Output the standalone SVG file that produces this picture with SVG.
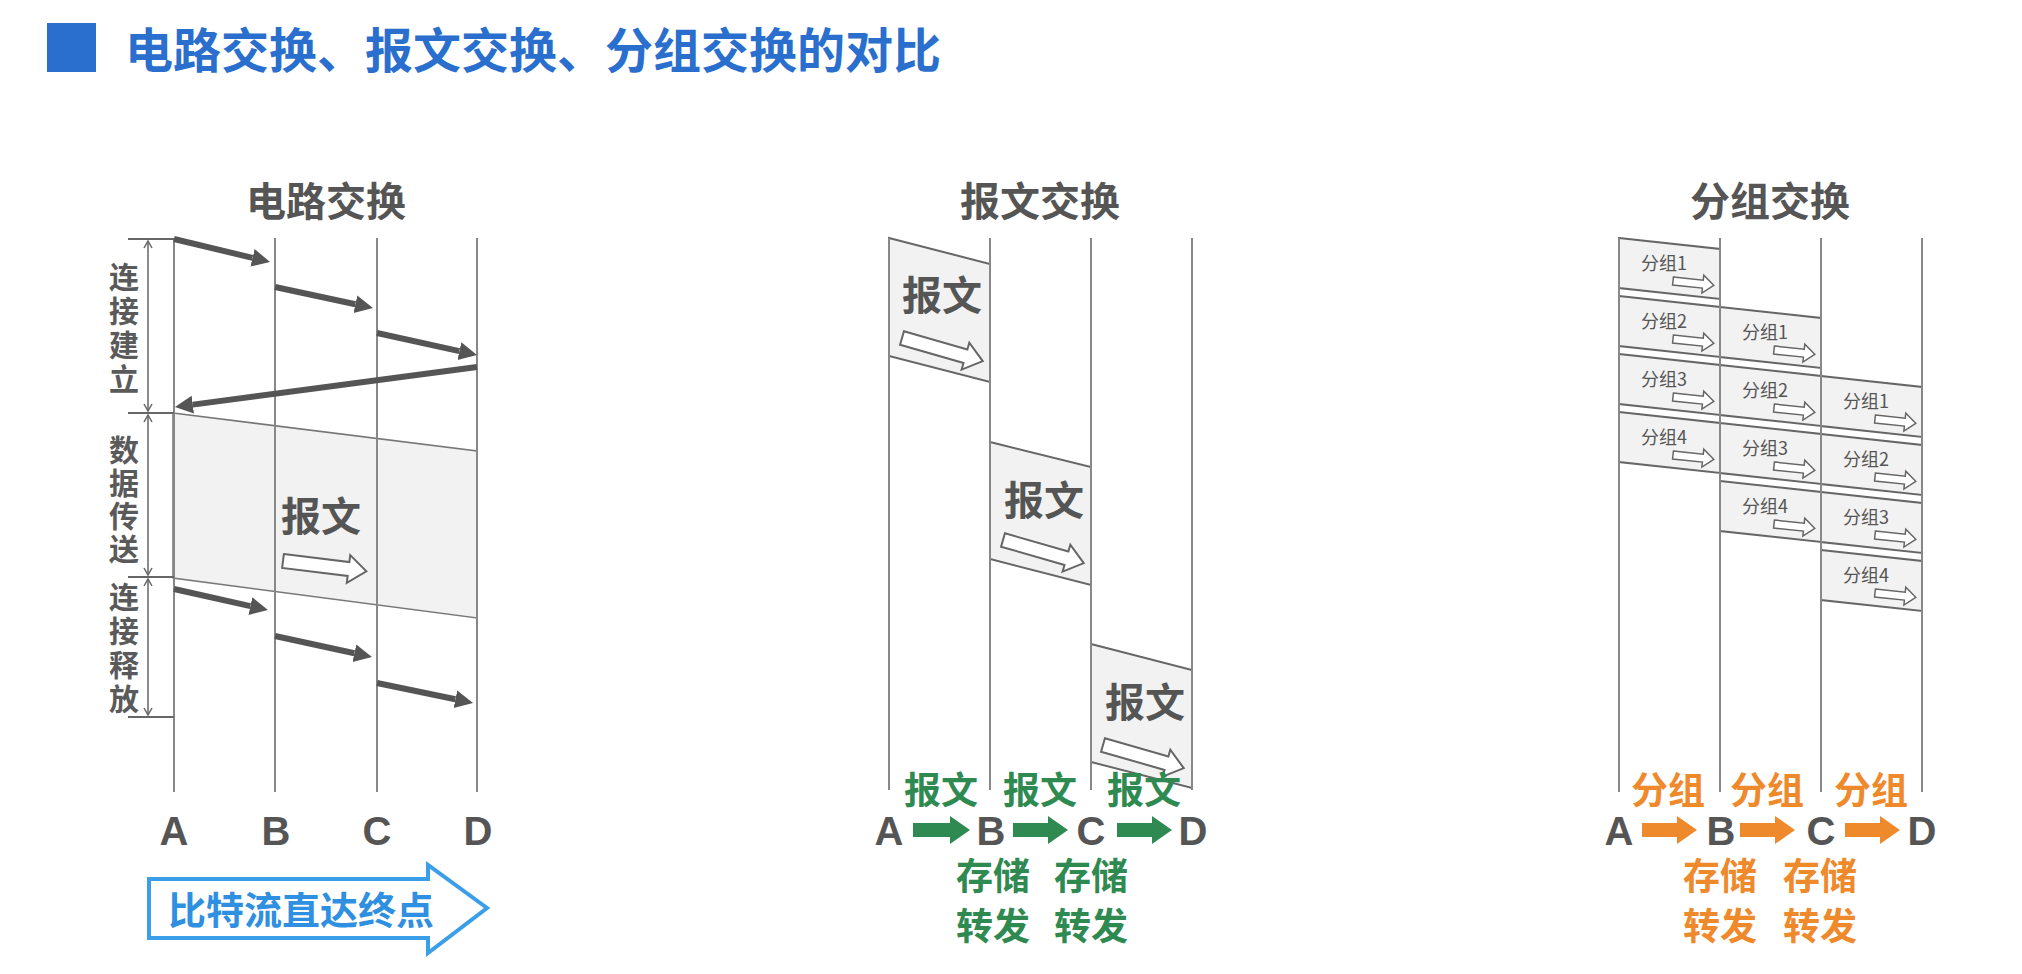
<svg xmlns="http://www.w3.org/2000/svg" width="2022" height="974" viewBox="0 0 2022 974">
<style>
.cjk{font-family:"Noto Sans CJK SC","Noto Sans",sans-serif}
.title{font-size:48px;font-weight:bold;fill:#2a6fcd}
.sec{font-size:40px;font-weight:bold;fill:#555;text-anchor:middle}
.side{font-size:30px;font-weight:bold;fill:#5a5a5a;writing-mode:vertical-rl;text-orientation:upright}
.big{font-size:40px;font-weight:bold;fill:#555;text-anchor:middle}
.pk{font-size:18px;fill:#555}
.abcd{font-family:"Liberation Sans",Arial,sans-serif;font-size:40px;font-weight:bold;fill:#555;text-anchor:middle}
.grn{font-size:37px;font-weight:bold;fill:#2f8a52;text-anchor:middle}
.org{font-size:37px;font-weight:bold;fill:#ee8a2c;text-anchor:middle}
.vline{stroke:#888;stroke-width:2;fill:none}
.tick{stroke:#666;stroke-width:2;fill:none}
.box{fill:#f2f2f2;stroke:#666;stroke-width:2}
.hollow{fill:#fff;stroke:#666;stroke-width:2}
.thick{stroke:#555;stroke-width:6;fill:none;marker-end:url(#head)}
.dim{stroke:#666;stroke-width:1.5;fill:none;marker-start:url(#dimS);marker-end:url(#dimE)}
</style>
<defs>
<marker id="head" markerUnits="userSpaceOnUse" markerWidth="20" markerHeight="20" viewBox="0 -10 20 20" refX="0" refY="0" orient="auto">
<path d="M0,-9 L18,0 L0,9 Z" fill="#555"/>
</marker>
<marker id="dimE" markerUnits="userSpaceOnUse" markerWidth="12" markerHeight="12" viewBox="-10 -6 12 12" refX="0" refY="0" orient="auto">
<path d="M-7,-4 L0,0 L-7,4" fill="none" stroke="#666" stroke-width="1.5"/>
</marker>
<marker id="dimS" markerUnits="userSpaceOnUse" markerWidth="12" markerHeight="12" viewBox="-2 -6 12 12" refX="0" refY="0" orient="auto">
<path d="M7,-4 L0,0 L7,4" fill="none" stroke="#666" stroke-width="1.5"/>
</marker>
<path id="harrow" d="M0,-7 H66 V-14 L84,0 L66,14 V7 H0 Z"/>
<path id="sarrow" d="M0,-4 H30 V-9 L41,0 L30,9 V4 H0 Z"/>
</defs>
<rect width="2022" height="974" fill="#fff"/>

<g id="header">
<rect x="47" y="23" width="49" height="49" fill="#2a6fcd"/>
<text class="cjk title" x="125" y="68">电路交换、报文交换、分组交换的对比</text>
</g>

<!-- Circuit switching -->
<g id="circuit">
<text class="cjk sec" x="326" y="216">电路交换</text>
<polygon class="box" points="173,413 477,451 477,618 173,578" style="stroke:#777;stroke-width:1.5"/>
<line class="vline" x1="174" y1="238" x2="174" y2="792"/>
<line class="vline" x1="275" y1="238" x2="275" y2="792"/>
<line class="vline" x1="377" y1="238" x2="377" y2="792"/>
<line class="vline" x1="477" y1="238" x2="477" y2="792"/>
<line class="tick" x1="128" y1="239" x2="174" y2="239"/>
<line class="tick" x1="128" y1="413" x2="174" y2="413"/>
<line class="tick" x1="128" y1="577" x2="174" y2="577"/>
<line class="tick" x1="128" y1="717" x2="174" y2="717"/>
<line class="dim" x1="148" y1="241" x2="148" y2="411"/>
<line class="dim" x1="148" y1="415" x2="148" y2="575"/>
<line class="dim" x1="148" y1="579" x2="148" y2="715"/>
<text class="cjk side" x="124" y="262" style="letter-spacing:4px">连接建立</text>
<text class="cjk side" x="124" y="435" style="letter-spacing:3px">数据传送</text>
<text class="cjk side" x="124" y="582" style="letter-spacing:4px">连接释放</text>
<text class="cjk big" x="321" y="531">报文</text>
<use href="#harrow" class="hollow" transform="translate(283,561) rotate(7)"/>
<text class="abcd" x="174" y="845">A</text>
<text class="abcd" x="276" y="845">B</text>
<text class="abcd" x="377" y="845">C</text>
<text class="abcd" x="478" y="845">D</text>
</g>

<g id="bitstream">
<polygon points="149,879 428,879 428,865 487,908 428,953 428,938 149,938" fill="#fff" stroke="#3a9fe8" stroke-width="4" stroke-linejoin="miter"/>
<text class="cjk" x="168" y="924" style="font-size:38px;font-weight:bold;fill:#2f8fe0">比特流直达终点</text>
</g>

<!-- Message switching -->
<g id="message">
<text class="cjk sec" x="1040" y="216">报文交换</text>
<polygon class="box" points="889,238 990,264 990,382 889,356"/>
<polygon class="box" points="990,442 1091,467 1091,585 990,559"/>
<polygon class="box" points="1091,644 1192,670 1192,788 1091,762"/>
<line class="vline" x1="889" y1="238" x2="889" y2="790"/>
<line class="vline" x1="990" y1="238" x2="990" y2="790"/>
<line class="vline" x1="1091" y1="238" x2="1091" y2="790"/>
<line class="vline" x1="1192" y1="238" x2="1192" y2="790"/>
<text class="cjk big" x="942" y="310">报文</text>
<use href="#harrow" class="hollow" transform="translate(902,338) rotate(16)"/>
<text class="cjk big" x="1044" y="515">报文</text>
<use href="#harrow" class="hollow" transform="translate(1003,540) rotate(16)"/>
<text class="cjk big" x="1145" y="717">报文</text>
<use href="#harrow" class="hollow" transform="translate(1103,745) rotate(16)"/>
<text class="cjk grn" x="941" y="804">报文</text>
<text class="cjk grn" x="1040" y="804">报文</text>
<text class="cjk grn" x="1144" y="804">报文</text>
<text class="abcd" x="889" y="845">A</text>
<text class="abcd" x="991" y="845">B</text>
<text class="abcd" x="1091" y="845">C</text>
<text class="abcd" x="1193" y="845">D</text>
<g fill="#2f8a52">
<path d="M913,823 H950 V816 L970,830 L950,844 V837 H913 Z"/>
<path d="M1013,823 H1048 V816 L1068,830 L1048,844 V837 H1013 Z"/>
<path d="M1117,823 H1152 V816 L1172,830 L1152,844 V837 H1117 Z"/>
</g>
<text class="cjk grn" x="993" y="890">存储</text>
<text class="cjk grn" x="993" y="940">转发</text>
<text class="cjk grn" x="1091" y="890">存储</text>
<text class="cjk grn" x="1091" y="940">转发</text>
</g>

<!-- Packet switching -->
<g id="packet">
<text class="cjk sec" x="1770" y="216">分组交换</text>
<g id="col1">
<polygon class="box" points="1619,238 1720,249 1720,299 1619,288"/>
<polygon class="box" points="1619,296 1720,307 1720,357 1619,346"/>
<polygon class="box" points="1619,354 1720,365 1720,415 1619,404"/>
<polygon class="box" points="1619,412 1720,423 1720,473 1619,462"/>
<text class="cjk pk" x="1641" y="270">分组1</text>
<text class="cjk pk" x="1641" y="328">分组2</text>
<text class="cjk pk" x="1641" y="386">分组3</text>
<text class="cjk pk" x="1641" y="444">分组4</text>
<use href="#sarrow" class="hollow" style="stroke-width:1.5" transform="translate(1673,281) rotate(6)"/>
<use href="#sarrow" class="hollow" style="stroke-width:1.5" transform="translate(1673,339) rotate(6)"/>
<use href="#sarrow" class="hollow" style="stroke-width:1.5" transform="translate(1673,397) rotate(6)"/>
<use href="#sarrow" class="hollow" style="stroke-width:1.5" transform="translate(1673,455) rotate(6)"/>
</g>
<g id="col2">
<polygon class="box" points="1720,307 1821,318 1821,368 1720,357"/>
<polygon class="box" points="1720,365 1821,376 1821,426 1720,415"/>
<polygon class="box" points="1720,423 1821,434 1821,484 1720,473"/>
<polygon class="box" points="1720,481 1821,492 1821,542 1720,531"/>
<text class="cjk pk" x="1742" y="339">分组1</text>
<text class="cjk pk" x="1742" y="397">分组2</text>
<text class="cjk pk" x="1742" y="455">分组3</text>
<text class="cjk pk" x="1742" y="513">分组4</text>
<use href="#sarrow" class="hollow" style="stroke-width:1.5" transform="translate(1774,350) rotate(6)"/>
<use href="#sarrow" class="hollow" style="stroke-width:1.5" transform="translate(1774,408) rotate(6)"/>
<use href="#sarrow" class="hollow" style="stroke-width:1.5" transform="translate(1774,466) rotate(6)"/>
<use href="#sarrow" class="hollow" style="stroke-width:1.5" transform="translate(1774,524) rotate(6)"/>
</g>
<g id="col3">
<polygon class="box" points="1821,376 1922,387 1922,437 1821,426"/>
<polygon class="box" points="1821,434 1922,445 1922,495 1821,484"/>
<polygon class="box" points="1821,492 1922,503 1922,553 1821,542"/>
<polygon class="box" points="1821,550 1922,561 1922,611 1821,600"/>
<text class="cjk pk" x="1843" y="408">分组1</text>
<text class="cjk pk" x="1843" y="466">分组2</text>
<text class="cjk pk" x="1843" y="524">分组3</text>
<text class="cjk pk" x="1843" y="582">分组4</text>
<use href="#sarrow" class="hollow" style="stroke-width:1.5" transform="translate(1875,419) rotate(6)"/>
<use href="#sarrow" class="hollow" style="stroke-width:1.5" transform="translate(1875,477) rotate(6)"/>
<use href="#sarrow" class="hollow" style="stroke-width:1.5" transform="translate(1875,535) rotate(6)"/>
<use href="#sarrow" class="hollow" style="stroke-width:1.5" transform="translate(1875,593) rotate(6)"/>
</g>
<line class="vline" x1="1619" y1="238" x2="1619" y2="792"/>
<line class="vline" x1="1720" y1="238" x2="1720" y2="792"/>
<line class="vline" x1="1821" y1="238" x2="1821" y2="792"/>
<line class="vline" x1="1922" y1="238" x2="1922" y2="792"/>
<text class="cjk org" x="1668" y="804">分组</text>
<text class="cjk org" x="1767" y="804">分组</text>
<text class="cjk org" x="1871" y="804">分组</text>
<text class="abcd" x="1619" y="845">A</text>
<text class="abcd" x="1721" y="845">B</text>
<text class="abcd" x="1821" y="845">C</text>
<text class="abcd" x="1922" y="845">D</text>
<g fill="#ee8a2c">
<path d="M1642,823 H1677 V816 L1697,830 L1677,844 V837 H1642 Z"/>
<path d="M1740,823 H1775 V816 L1795,830 L1775,844 V837 H1740 Z"/>
<path d="M1845,823 H1880 V816 L1900,830 L1880,844 V837 H1845 Z"/>
</g>
<text class="cjk org" x="1720" y="890">存储</text>
<text class="cjk org" x="1720" y="940">转发</text>
<text class="cjk org" x="1820" y="890">存储</text>
<text class="cjk org" x="1820" y="940">转发</text>
</g>

<g id="connectors">
<line class="thick" x1="174" y1="239" x2="252.5" y2="257.8"/>
<line class="thick" x1="275" y1="287" x2="355.4" y2="304.2"/>
<line class="thick" x1="377" y1="333" x2="459.4" y2="351.1"/>
<line class="thick" x1="477" y1="367" x2="192.8" y2="404.6"/>
<line class="thick" x1="174" y1="589" x2="250.4" y2="606.1"/>
<line class="thick" x1="275" y1="636" x2="354.4" y2="653.2"/>
<line class="thick" x1="377" y1="683" x2="455.4" y2="699.3"/>
</g>
</svg>
